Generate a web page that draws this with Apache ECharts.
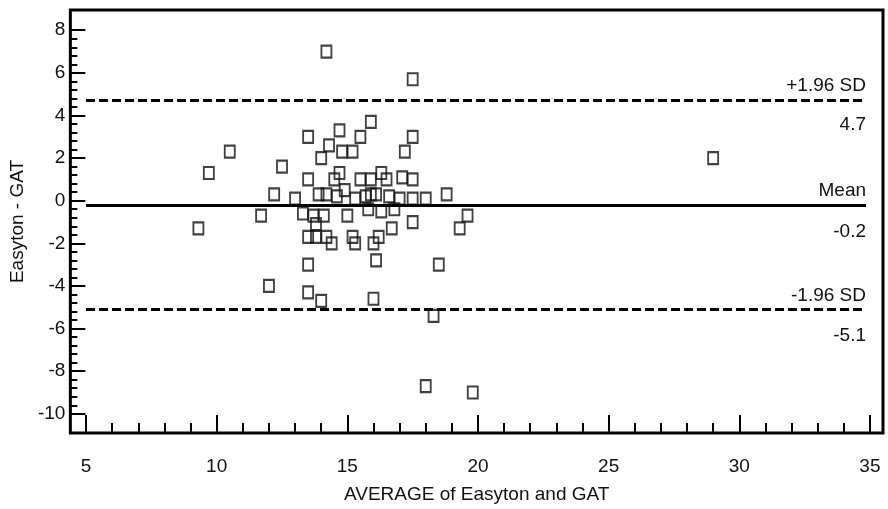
<!DOCTYPE html>
<html lang="en">
<head>
<meta charset="UTF-8">
<title>Bland-Altman Easyton vs GAT</title>
<script src="https://cdn.jsdelivr.net/npm/echarts@6/dist/echarts.min.js"></script>
<style>
  html, body { margin: 0; padding: 0; background: #fff; }
  #chart { width: 888px; height: 509px; }
</style>
</head>
<body>
<div id="chart"></div>
<script>
// averages (x) and differences (y)
var avgValues = [14.2, 17.5, 10.5, 9.7, 12.5, 13.5, 14.7, 14.3, 14.0, 14.8,
                 15.2, 15.5, 15.9, 17.5, 17.2, 13.5, 14.7, 14.5, 15.5, 15.9,
                 16.3, 16.5, 17.1, 17.5, 12.2, 18.8, 13.0, 13.9, 14.2, 14.6,
                 14.9, 15.3, 15.7, 15.9, 16.1, 16.6, 17.0, 17.5, 18.0, 13.3,
                 13.7, 14.1, 13.8, 15.0, 15.8, 16.3, 16.8, 16.7, 17.5, 11.7,
                 9.3, 13.5, 13.8, 14.2, 14.4, 15.2, 15.3, 16.0, 16.2, 13.5,
                 16.1, 18.5, 13.5, 14.0, 16.0, 12.0, 18.3, 18.0, 19.8, 29.0,
                 19.6, 19.3];
var diffValues = [7.0, 5.7, 2.3, 1.3, 1.6, 3.0, 3.3, 2.6, 2.0, 2.3,
                  2.3, 3.0, 3.7, 3.0, 2.3, 1.0, 1.3, 1.0, 1.0, 1.0,
                  1.3, 1.0, 1.1, 1.0, 0.3, 0.3, 0.1, 0.3, 0.3, 0.2,
                  0.5, 0.1, 0.2, 0.3, 0.3, 0.2, 0.1, 0.1, 0.1, -0.6,
                  -0.7, -0.7, -1.1, -0.7, -0.4, -0.5, -0.4, -1.3, -1.0, -0.7,
                  -1.3, -1.7, -1.7, -1.7, -2.0, -1.7, -2.0, -2.0, -1.7, -3.0,
                  -2.8, -3.0, -4.3, -4.7, -4.6, -4.0, -5.4, -8.7, -9.0, 2.0,
                  -0.7, -1.3];

var meanDiff = -0.2;
var upperLimit = 4.7;
var lowerLimit = -5.1;
var lineStart = 5;
var lineEnd = 34.85;

var xTicks = [5, 10, 15, 20, 25, 30, 35];
var yTicks = [-10, -8, -6, -4, -2, 0, 2, 4, 6, 8];

// minor ticks: every 1 on x, every 0.4 on y
var xMinor = [];
for (var i = 5; i <= 35; i++) xMinor.push(i);
var yMinor = [];
for (var j = 0; j <= 45; j++) yMinor.push(Math.round((-10 + j * 0.4) * 10) / 10);

var font = 'Liberation Sans, Arial, sans-serif';

var points = [];
for (var k = 0; k < avgValues.length; k++) {
    points.push([avgValues[k], diffValues[k]]);
}

function refLine(val, style, text, pos, dist) {
    return [{
        coord: [lineStart, val],
        lineStyle: style,
        label: {
            show: true, formatter: text, position: pos, distance: [0, dist],
            fontSize: 19, fontFamily: font, color: '#111'
        }
    }, { coord: [lineEnd, val] }];
}

var solid = { type: 'solid', width: 3, color: '#000' };
var dashed = { type: [9, 4], width: 3, color: '#000' };
var hidden = { type: 'solid', width: 1, color: 'rgba(255,255,255,0)' };

var chart = echarts.init(document.getElementById('chart'));
var option = {
    backgroundColor: '#fff',
    animation: false,
    grid: {
        left: 64, right: 5, top: 10, bottom: 76,
        show: true, borderColor: '#000', borderWidth: 3
    },
    xAxis: [{
        type: 'value', min: 4.4, max: 35.5, position: 'bottom',
        splitLine: { show: false },
        axisLine: { show: false, onZero: false },
        axisTick: { inside: true, length: 18, customValues: xTicks, lineStyle: { color: '#000', width: 2 } },
        axisLabel: { customValues: xTicks, margin: 24, fontSize: 19, fontFamily: font, color: '#111' },
        name: 'AVERAGE of Easyton and GAT',
        nameLocation: 'middle', nameGap: 52,
        nameTextStyle: { fontSize: 19, fontFamily: font, color: '#111' }
    }, {
        type: 'value', min: 4.4, max: 35.5, position: 'bottom',
        splitLine: { show: false },
        axisLine: { show: false, onZero: false },
        axisTick: { inside: true, length: 10, customValues: xMinor, lineStyle: { color: '#000', width: 2 } },
        axisLabel: { show: false }
    }],
    yAxis: [{
        type: 'value', min: -10.9, max: 8.95, position: 'left',
        splitLine: { show: false },
        axisLine: { show: false, onZero: false },
        axisTick: { inside: true, length: 15, customValues: yTicks, lineStyle: { color: '#000', width: 2 } },
        axisLabel: { customValues: yTicks, margin: 5, fontSize: 19, fontFamily: font, color: '#111' },
        name: 'Easyton - GAT',
        nameLocation: 'middle', nameGap: 29,
        nameTextStyle: { fontSize: 19, fontFamily: font, color: '#111' }
    }, {
        type: 'value', min: -10.9, max: 8.95, position: 'left',
        splitLine: { show: false },
        axisLine: { show: false, onZero: false },
        axisTick: { inside: true, length: 7, customValues: yMinor, lineStyle: { color: '#000', width: 2 } },
        axisLabel: { show: false }
    }],
    series: [{
        type: 'scatter',
        xAxisIndex: 0, yAxisIndex: 0,
        symbol: 'rect',
        symbolSize: [10, 12],
        itemStyle: { color: 'rgba(0,0,0,0)', borderColor: '#111', borderWidth: 2 },
        data: points,
        markLine: {
            symbol: 'none', silent: true, animation: false,
            data: [
                refLine(upperLimit, dashed, '+1.96 SD', 'insideEndTop', 5),
                refLine(upperLimit, hidden, upperLimit.toFixed(1), 'insideEndBottom', 15),
                refLine(meanDiff, solid, 'Mean', 'insideEndTop', 5),
                refLine(meanDiff, hidden, meanDiff.toFixed(1), 'insideEndBottom', 17),
                refLine(lowerLimit, dashed, '-1.96 SD', 'insideEndTop', 4),
                refLine(lowerLimit, hidden, lowerLimit.toFixed(1), 'insideEndBottom', 17)
            ]
        }
    }]
};
chart.setOption(option);
</script>
</body>
</html>
